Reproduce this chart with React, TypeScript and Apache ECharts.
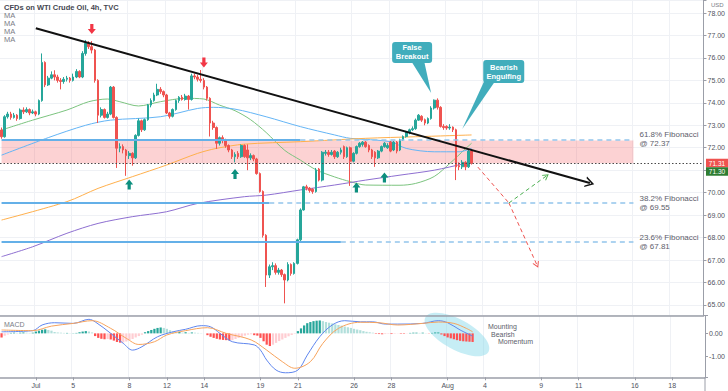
import React, { useEffect, useRef } from 'react';
import * as echarts from 'echarts';

// ---------- data ----------
const tradingDays = ['06-29','06-30','07-01','07-02','07-05','07-06','07-07','07-08','07-09','07-12','07-13','07-14','07-15','07-16','07-19','07-20','07-21','07-22','07-23','07-26','07-27','07-28','07-29','07-30','08-02','08-03','08-04','08-05','08-06','08-09','08-10','08-11','08-12','08-13','08-16','08-17','08-18','08-19'];
const dateLabels: Record<string, string> = {
  '07-01': 'Jul', '07-05': '5', '07-08': '8', '07-12': '12', '07-14': '14', '07-19': '19', '07-21': '21',
  '07-26': '26', '07-28': '28', '08-02': 'Aug', '08-04': '4', '08-09': '9', '08-11': '11', '08-16': '16', '08-18': '18',
};
const barsPerDay = 6;

// [open, close, low, high] per 4h bar
const ohlc: number[][] = [
  [72.79,72.49,72.4,72.9],[72.49,73.38,72.45,73.45],[73.38,73.5,73.3,73.6],[73.5,73.35,73.25,73.6],[73.35,73.45,73.3,73.55],
  [73.45,73.3,73.2,73.5],[73.3,73.68,73.25,73.75],[73.68,73.6,73.5,73.8],[73.6,73.7,73.55,73.8],[73.7,73.55,73.45,73.75],
  [73.55,73.6,73.5,73.7],[73.6,73.5,73.4,73.65],[73.5,74.1,73.45,74.15],[74.1,75.8,74.05,76.2],[75.8,74.8,74.7,75.85],
  [74.8,75.1,74.75,75.2],[75.1,75.25,75.05,75.4],[75.25,75.15,75.0,75.45],[75.15,75.0,74.9,75.25],[75.0,74.95,74.6,75.1],
  [74.95,75.05,74.85,75.15],[75.05,75.1,74.95,75.2],[75.1,75.0,74.9,75.15],[75.0,75.15,74.95,75.3],[75.15,75.4,75.1,75.5],
  [75.4,75.15,75.1,75.45],[75.15,76.2,75.1,76.3],[76.2,76.65,76.1,76.8],[76.65,76.5,76.4,76.75],[76.5,76.35,76.2,76.75],
  [76.35,75.0,74.9,76.4],[75.0,73.45,73.1,75.05],[73.45,73.7,73.35,73.8],[73.7,73.35,73.3,73.75],[73.35,73.5,73.3,73.6],
  [73.5,74.7,73.45,74.75],[74.7,73.35,73.3,74.75],[73.35,71.98,71.1,73.4],[71.98,72.05,71.8,72.2],[72.05,71.9,71.75,72.15],
  [71.9,71.65,70.75,71.95],[71.65,71.75,71.5,71.85],[71.75,71.55,71.2,71.8],[71.55,72.55,71.5,72.6],[72.55,73.2,72.5,73.3],
  [73.2,72.8,72.7,73.25],[72.8,73.25,72.75,73.3],[73.25,73.9,73.2,73.95],[73.9,74.1,73.8,74.2],[74.1,74.35,74.05,74.45],
  [74.35,74.6,74.3,74.85],[74.6,74.5,74.4,74.7],[74.5,74.35,74.25,74.55],[74.35,73.55,73.5,74.4],[73.55,73.4,73.3,73.6],
  [73.4,73.7,73.35,73.75],[73.7,74.1,73.65,74.15],[74.1,74.25,74.0,74.3],[74.25,74.15,74.1,74.35],[74.15,74.3,74.1,74.4],
  [74.3,74.15,73.7,74.35],[74.15,75.2,74.1,75.3],[75.2,75.15,75.05,75.3],[75.15,75.05,74.95,75.25],[75.05,75.0,74.9,75.46],
  [75.0,74.7,74.6,75.1],[74.7,74.2,74.1,74.75],[74.2,73.1,72.5,74.25],[73.1,72.9,72.8,73.2],[72.9,72.2,71.95,72.95],
  [72.2,72.45,72.1,72.5],[72.45,72.35,72.2,72.55],[72.35,72.1,72.0,72.4],[72.1,71.9,71.8,72.15],[71.9,71.6,71.5,71.95],
  [71.6,71.7,71.35,71.8],[71.75,71.6,71.5,71.85],[71.6,72.1,71.55,72.15],[72.1,71.6,71.55,72.15],[71.9,71.55,71.0,72.15],
  [71.55,71.65,71.45,71.75],[71.65,71.5,71.4,71.7],[71.5,70.85,70.8,71.55],[70.85,70.05,70.0,70.9],[70.05,68.1,68.0,70.1],
  [68.1,66.33,65.8,68.15],[66.33,66.7,66.2,66.8],[66.7,66.75,66.55,66.9],[66.75,66.45,66.35,66.85],[66.45,66.55,66.35,66.65],
  [66.55,66.35,66.25,66.6],[66.35,66.11,65.07,66.4],[66.11,66.8,66.05,66.9],[66.8,66.4,66.3,66.85],[66.4,66.85,66.35,66.9],
  [66.85,67.9,66.8,67.95],[67.9,69.23,67.85,69.3],[69.23,70.26,69.2,70.3],[70.26,70.2,70.1,70.35],[70.2,70.1,70.0,70.25],
  [70.15,70.05,69.95,70.2],[70.05,71.0,70.0,71.1],[71.05,70.56,70.5,71.1],[70.56,71.8,70.5,71.85],[71.75,71.8,71.65,71.9],
  [71.8,71.7,71.6,71.9],[71.7,71.8,71.65,71.9],[71.85,71.6,71.5,71.9],[71.6,71.8,71.55,71.85],[71.8,71.9,71.7,72.0],
  [72.05,71.6,71.5,72.1],[71.6,72.0,71.55,72.05],[72.0,71.4,70.3,72.05],[71.4,71.75,71.35,71.8],[71.75,72.05,71.7,72.1],
  [72.05,72.2,72.0,72.25],[72.15,72.25,72.05,72.3],[72.25,72.05,72.0,72.3],[72.1,71.9,71.8,72.15],[71.9,71.6,71.5,71.95],
  [71.8,71.55,71.15,71.85],[71.55,71.85,71.5,71.9],[71.85,72.05,71.8,72.1],[72.05,72.2,72.0,72.25],[72.0,72.1,71.95,72.2],
  [72.25,71.85,71.8,72.3],[71.9,72.25,71.85,72.3],[72.25,71.85,71.75,72.3],[71.9,72.35,71.85,72.4],[72.35,72.5,72.3,72.55],
  [72.5,72.7,72.45,72.75],[72.7,72.8,72.6,72.85],[72.8,72.85,72.75,72.95],[72.85,73.23,72.8,73.3],[73.23,73.45,73.2,73.5],
  [73.4,73.23,73.15,73.45],[73.25,73.1,73.0,73.3],[73.1,73.3,73.05,73.35],[73.3,73.77,73.25,73.85],[73.77,74.12,73.7,74.15],
  [74.12,73.8,73.7,74.2],[73.8,72.95,72.9,73.85],[72.95,72.9,72.8,73.05],[72.95,72.88,72.8,73.0],[72.88,72.92,72.8,73.05],
  [72.92,72.8,72.7,72.95],[72.8,71.15,70.56,72.85],[71.2,71.15,71.0,71.35],[71.15,71.35,71.05,71.45],[71.35,71.15,71.0,71.4],
  [71.15,71.85,71.1,71.9],[71.85,71.31,71.25,71.9],
];

// moving averages read at key bars: [bar index, value]
const maFast = [[0,72.79],[10,73.23],[21,73.68],[28,74.05],[34,74.17],[38,74.05],[44,73.86],[51,74.05],[59,74.2],[65,74.17],[70,73.9],[75,73.65],[80,73.25],[85,72.68],[91,71.88],[96,71.45],[101,71.02],[107,70.7],[112,70.49],[117,70.34],[128,70.33],[133,70.41],[139,70.72],[144,71.3],[149,71.95],[151,72.2]];
const maMid = [[0,71.67],[15,72.45],[27,73.0],[35,73.23],[51,73.38],[63,73.75],[68,73.8],[75,73.72],[85,73.38],[96,72.94],[107,72.57],[112,72.42],[125,72.27],[130,71.97],[139,71.82],[147,71.82],[151,71.97]];
const maSlow = [[0,68.78],[21,69.6],[31,70.19],[42,70.71],[53,71.23],[63,71.75],[69,71.97],[78,72.16],[96,72.27],[117,72.42],[133,72.49],[151,72.57]];
const maLong = [[0,67.15],[10,67.59],[21,68.19],[31,68.63],[42,68.93],[53,69.15],[63,69.52],[78,69.82],[85,69.89],[96,70.12],[107,70.34],[117,70.56],[128,70.78],[139,71.0],[149,71.3],[151,71.35]];

const macdHist = [
  -0.18,-0.10,-0.05,0.02,0.03,0.02,0.03,0.04,0.03,0.02,0.03,0.08,0.12,0.16,0.18,0.15,0.12,0.06,0.04,0.03,
  0.02,0.02,0.01,0.01,0.02,0.05,0.08,0.10,0.08,0.04,-0.12,-0.20,-0.24,-0.26,-0.25,-0.27,-0.32,-0.38,-0.41,-0.40,
  -0.36,-0.30,-0.25,-0.18,-0.12,-0.06,0.05,0.10,0.15,0.20,0.24,0.26,0.24,0.20,0.14,0.08,0.04,0.06,0.03,0.05,
  0.02,0.04,0.03,0.02,0.01,0.00,-0.08,-0.15,-0.20,-0.24,-0.27,-0.29,-0.30,-0.31,-0.30,-0.25,-0.20,-0.15,-0.10,-0.06,
  -0.04,-0.08,-0.10,-0.20,-0.35,-0.50,-0.56,-0.50,-0.42,-0.34,-0.27,-0.20,-0.13,-0.07,-0.02,0.10,0.22,0.35,0.45,0.50,
  0.54,0.56,0.57,0.54,0.50,0.47,0.44,0.40,0.37,0.34,0.30,0.27,0.24,0.20,0.17,0.14,0.10,0.07,0.05,0.03,
  -0.02,-0.03,-0.04,-0.03,-0.02,-0.03,-0.02,-0.01,-0.02,-0.02,-0.01,0.02,0.03,0.03,0.02,0.03,0.01,-0.01,0.02,0.04,
  0.04,-0.05,-0.12,-0.18,-0.22,-0.26,-0.30,-0.33,-0.35,-0.36,-0.37,-0.38,
];
const macdLine = [[0,0.07],[10,0.12],[13,0.37],[17,0.47],[23,0.44],[28,0.62],[30,0.51],[35,0.0],[39,-0.44],[42,-0.74],[45,-0.59],[50,-0.15],[55,0.07],[59,0.18],[64,0.34],[67,0.29],[70,0.0],[74,-0.37],[81,-0.51],[83,-0.74],[85,-1.18],[88,-1.62],[91,-1.74],[95,-1.62],[98,-0.96],[102,-0.15],[106,0.37],[110,0.56],[115,0.51],[119,0.51],[123,0.41],[127,0.41],[135,0.44],[140,0.56],[143,0.47],[147,0.15],[151,-0.12]];
const signalLine = [[0,0.15],[10,0.12],[16,0.32],[23,0.44],[29,0.56],[35,0.22],[40,-0.22],[44,-0.49],[49,-0.37],[53,-0.07],[59,0.12],[66,0.25],[72,0.0],[80,-0.29],[85,-0.74],[90,-1.25],[94,-1.54],[99,-1.25],[103,-0.44],[108,0.22],[115,0.49],[121,0.47],[127,0.37],[135,0.44],[140,0.5],[145,0.44],[149,0.22],[151,0.07]];

const fibLevels = [72.37, 69.55, 67.81];
const fibNames = ['61.8% Fibonacci', '38.2% Fibonacci', '23.6% Fibonacci'];
const fibSolidEnd = [96, 86, 109];
const extendEnd = 203;
const zoneTop = 72.32;
const lastPrice = 71.31;
const askPrice = 71.3;
const trendLine = [[11, 77.32], [189, 70.43]];
const projRedA = [[153, 71.14], [163, 69.54]];
const projRedB = [[163, 69.54], [172, 66.78]];
const projGreen = [[163, 69.54], [175, 70.74]];
const arrowsDown = [[29, 77.29], [65, 75.8]];
const arrowsUp = [[41, 70.36], [75, 70.83], [114, 70.23], [123, 70.67]];
const falseBreakoutTip = [138, 74.44];
const engulfingTip = [148, 72.83];
const momentumCenter = [146, -0.05];
const momentumWords = ['Mounting', 'Bearish', 'Momentum'];

// ---------- helpers ----------
const categories: string[] = [];
tradingDays.forEach((d) => { for (let h = 0; h < barsPerDay; h++) categories.push(d + ' ' + h); });
categories.shift();
categories.pop();
const isLabelCat = (v: string) => v.endsWith(' 0') && !!dateLabels[v.slice(0, 5)];
const labelInterval = (_i: number, v: string) => isLabelCat(v);

const FONT = 'Liberation Sans, Arial, sans-serif';
const UP = '#26a69a';
const DOWN = '#ef5350';
const AXIS = '#9b9ea8';
const GRIDC = '#eff1f5';
const TEXTC = '#5d606b';
const chevron = 'path://M0,10 L5,0 L10,10 L8.4,10 L5,3.2 L1.6,10 Z';
const arrowDownPath = 'path://M3,0 L7,0 L7,5 L10,5 L5,10 L0,5 L3,5 Z';
const arrowUpPath = 'path://M5,0 L10,5 L7,5 L7,10 L3,10 L3,5 L0,5 Z';

const histData = macdHist.map((v, i) => {
  const prev = i > 0 ? macdHist[i - 1] : v;
  let color;
  if (v >= 0) color = v >= prev ? UP : '#b2dfdb';
  else color = v <= prev ? '#ff5252' : '#ffcdd2';
  return { value: v, itemStyle: { color } };
});

const fmtPrice = (v: number) => (Math.abs(v - Math.round(v)) < 1e-6 ? v.toFixed(2) : '');

function buildOption(): any {
  const fibMarks: any[] = [];
  fibLevels.forEach((lvl, i) => {
    fibMarks.push([
      { coord: [0, lvl], lineStyle: { type: 'solid', color: '#64b0e8', width: 2 } },
      { coord: [fibSolidEnd[i], lvl] },
    ]);
    fibMarks.push([
      {
        coord: [fibSolidEnd[i], lvl],
        lineStyle: { type: [5, 4], color: '#93c5ec', width: 1.5 },
        label: {
          show: true, position: 'end', distance: 6, formatter: fibNames[i] + '\n@ ' + lvl.toFixed(2),
          color: TEXTC, fontSize: 8, lineHeight: 9, fontFamily: FONT, align: 'left',
        },
      },
      { coord: [extendEnd, lvl] },
    ]);
  });
  const xBase = {
    type: 'category', data: categories, boundaryGap: true,
    splitLine: { show: true, interval: labelInterval, lineStyle: { color: GRIDC, width: 1 } },
  };
  return {
    animation: false,
    textStyle: { fontFamily: FONT },
    grid: [
      { left: 0, right: 23, top: 0, height: 315.7 },
      { left: 0, right: 23, top: 315.7, height: 61.6 },
    ],
    xAxis: [
      {
        ...xBase, gridIndex: 0,
        axisLine: { show: true, onZero: false, lineStyle: { color: AXIS, width: 1.5 } },
        axisTick: { show: false }, axisLabel: { show: false },
      },
      {
        ...xBase, gridIndex: 1,
        axisLine: { show: true, onZero: false, lineStyle: { color: AXIS, width: 1.5 } },
        axisTick: { show: true, interval: labelInterval, alignWithLabel: true, length: 3, lineStyle: { color: AXIS } },
        axisLabel: {
          interval: labelInterval, formatter: (v: string) => dateLabels[v.slice(0, 5)] || '',
          fontSize: 7, color: '#50535e', margin: 5, fontFamily: FONT,
        },
      },
    ],
    yAxis: [
      {
        type: 'value', gridIndex: 0, position: 'right', min: 64.52, max: 78.58, splitNumber: 14,
        minInterval: 1, maxInterval: 1, scale: true,
        axisLine: { show: true, lineStyle: { color: AXIS } },
        axisTick: { show: true, length: 3, lineStyle: { color: AXIS } },
        axisLabel: { fontSize: 7, color: '#50535e', margin: 4, formatter: fmtPrice, fontFamily: FONT },
        splitLine: { show: true, lineStyle: { color: GRIDC } },
      },
      {
        type: 'value', gridIndex: 1, position: 'right', min: -1.94, max: 0.78, splitNumber: 3,
        minInterval: 1, maxInterval: 1, scale: true,
        axisLine: { show: true, lineStyle: { color: AXIS } },
        axisTick: { show: true, length: 3, lineStyle: { color: AXIS } },
        axisLabel: { fontSize: 7, color: '#50535e', margin: 4, formatter: fmtPrice, fontFamily: FONT },
        splitLine: { show: false },
      },
    ],
    series: [
      {
        name: 'levels', type: 'line', xAxisIndex: 0, yAxisIndex: 0, data: [], z: 1, silent: true,
        markArea: {
          silent: true, itemStyle: { color: 'rgba(242,80,86,0.26)' },
          data: [[{ coord: [0, zoneTop] }, { coord: [extendEnd, lastPrice] }]],
        },
        markLine: {
          silent: true, symbol: ['none', 'none'], label: { show: false },
          data: [
            { yAxis: lastPrice, lineStyle: { type: [1.5, 2], color: '#4a4a4a', width: 1 } },
            ...fibMarks,
          ],
        },
      },
      { name: 'MA1', type: 'line', xAxisIndex: 0, yAxisIndex: 0, data: maFast, showSymbol: false, smooth: 0.3, z: 2, lineStyle: { color: '#7cc47f', width: 1 } },
      { name: 'MA2', type: 'line', xAxisIndex: 0, yAxisIndex: 0, data: maMid, showSymbol: false, smooth: 0.3, z: 2, lineStyle: { color: '#64b5f6', width: 1 } },
      { name: 'MA3', type: 'line', xAxisIndex: 0, yAxisIndex: 0, data: maSlow, showSymbol: false, smooth: 0.3, z: 2, lineStyle: { color: '#ffb04c', width: 1 } },
      { name: 'MA4', type: 'line', xAxisIndex: 0, yAxisIndex: 0, data: maLong, showSymbol: false, smooth: 0.3, z: 2, lineStyle: { color: '#8e6fd1', width: 1 } },
      {
        name: 'price', type: 'candlestick', xAxisIndex: 0, yAxisIndex: 0, data: ohlc, z: 3, barWidth: '70%',
        itemStyle: { color: UP, color0: DOWN, borderColor: UP, borderColor0: DOWN, borderWidth: 1 },
        markPoint: {
          silent: true, label: { show: false },
          data: [
            ...arrowsDown.map((c) => ({ coord: c, symbol: arrowDownPath, symbolSize: [8, 10], itemStyle: { color: '#f23645' } })),
            ...arrowsUp.map((c) => ({ coord: c, symbol: arrowUpPath, symbolSize: [8, 10], itemStyle: { color: '#0c8f7e' } })),
          ],
        },
      },
      {
        name: 'drawings', type: 'line', xAxisIndex: 0, yAxisIndex: 0, data: [], z: 5, silent: true,
        markLine: {
          silent: true, symbol: ['none', 'none'], label: { show: false },
          data: [
            [
              { coord: trendLine[0], lineStyle: { color: '#111', width: 2, type: 'solid' } },
              { coord: trendLine[1], symbol: chevron, symbolSize: [11, 9] },
            ],
            [
              { coord: projRedA[0], lineStyle: { color: '#ef5350', width: 1, type: [4, 3] } },
              { coord: projRedA[1] },
            ],
            [
              { coord: projRedB[0], lineStyle: { color: '#ef5350', width: 1, type: [4, 3] } },
              { coord: projRedB[1], symbol: chevron, symbolSize: [7, 6] },
            ],
            [
              { coord: projGreen[0], lineStyle: { color: '#4caf50', width: 1, type: [4, 3] } },
              { coord: projGreen[1], symbol: chevron, symbolSize: [7, 6] },
            ],
          ],
        },
      },
      {
        name: 'hist', type: 'bar', xAxisIndex: 1, yAxisIndex: 1, data: histData, barWidth: '72%', z: 2,
      },
      { name: 'MACD', type: 'line', xAxisIndex: 1, yAxisIndex: 1, data: macdLine, showSymbol: false, smooth: 0.35, z: 3, lineStyle: { color: '#5f86ee', width: 1 } },
      { name: 'Signal', type: 'line', xAxisIndex: 1, yAxisIndex: 1, data: signalLine, showSymbol: false, smooth: 0.35, z: 3, lineStyle: { color: '#f7a35c', width: 1 } },
    ],
  };
}

function text(x: number, y: number, t: string, extra: any = {}): any {
  return {
    type: 'text', x, y, z: 100, silent: true,
    style: {
      text: t, fill: TEXTC, fontSize: 8, fontFamily: FONT,
      align: 'left', textAlign: 'left', verticalAlign: 'middle', textVerticalAlign: 'middle', ...extra,
    },
  };
}

export default function App() {
  const ref = useRef<HTMLDivElement>(null);
  useEffect(() => {
    const chart = echarts.init(ref.current as HTMLDivElement, null, { renderer: 'svg' });
    chart.setOption(buildOption());

    const px = (g: number, p: number[]) => chart.convertToPixel({ gridIndex: g }, p) as number[];
    const yLast = px(0, [0, lastPrice])[1];
    const fb = px(0, falseBreakoutTip);
    const be = px(0, engulfingTip);
    const mc = px(1, momentumCenter);
    const teal = '#41adbc';
    const calloutText = { fill: '#fff', fontSize: 7.5, fontWeight: 'bold', lineHeight: 9, align: 'center', textAlign: 'center' };

    const graphic: any[] = [
      text(4, 7, 'CFDs on WTI Crude Oil, 4h, TVC', { fill: '#444751', fontWeight: 'bold', fontSize: 7.5 }),
      text(4, 15, 'MA', { fill: '#7a7d86', fontSize: 7.5 }),
      text(4, 23, 'MA', { fill: '#7a7d86', fontSize: 7.5 }),
      text(4, 31, 'MA', { fill: '#7a7d86', fontSize: 7.5 }),
      text(4, 39, 'MA', { fill: '#7a7d86', fontSize: 7.5 }),
      text(4, 324, 'MACD', { fill: '#7a7d86', fontSize: 7 }),
      text(711, 5, 'USD', { fill: '#7a7d86', fontSize: 6 }),
      { type: 'line', z: 50, silent: true, shape: { x1: 705, y1: 377, x2: 705, y2: 391 }, style: { stroke: AXIS, lineWidth: 1 } },
      // price tags
      { type: 'rect', z: 100, silent: true, shape: { x: 706, y: yLast - 4.5, width: 22, height: 8.5 }, style: { fill: '#ef5350' } },
      text(717, yLast, lastPrice.toFixed(2), { fill: '#fff', fontSize: 6.5, align: 'center', textAlign: 'center' }),
      { type: 'rect', z: 100, silent: true, shape: { x: 706, y: yLast + 4, width: 22, height: 8.5 }, style: { fill: '#2e7d32' } },
      text(717, yLast + 8.5, askPrice.toFixed(2), { fill: '#fff', fontSize: 6.5, align: 'center', textAlign: 'center' }),
      // False Breakout callout
      { type: 'polygon', z: 99, silent: true, shape: { points: [[fb[0] - 20, fb[1] - 32], [fb[0] - 7, fb[1] - 32], [fb[0], fb[1]]] }, style: { fill: teal } },
      { type: 'rect', z: 99, silent: true, shape: { x: fb[0] - 39, y: fb[1] - 51, width: 40, height: 21, r: 3 }, style: { fill: teal } },
      text(fb[0] - 19, fb[1] - 40.5, 'False\nBreakout', calloutText),
      // Bearish Engulfing callout
      { type: 'polygon', z: 99, silent: true, shape: { points: [[be[0] + 22, be[1] - 48], [be[0] + 33, be[1] - 48], [be[0], be[1]]] }, style: { fill: teal } },
      { type: 'rect', z: 99, silent: true, shape: { x: be[0] + 21, y: be[1] - 69, width: 41, height: 23, r: 3 }, style: { fill: teal } },
      text(be[0] + 41.5, be[1] - 57.5, 'Bearish\nEngulfing', calloutText),
      // momentum highlight
      { type: 'ellipse', z: 0, silent: true, x: mc[0], y: mc[1], rotation: -0.5, shape: { cx: 0, cy: 0, rx: 36, ry: 15 }, style: { fill: 'rgba(128,215,232,0.45)' } },
      text(mc[0] + 31, mc[1] - 7.5, momentumWords[0], { fontSize: 7 }),
      text(mc[0] + 34, mc[1], momentumWords[1], { fontSize: 7 }),
      text(mc[0] + 41, mc[1] + 7.5, momentumWords[2], { fontSize: 7 }),
    ];
    chart.setOption({ graphic });
    return () => chart.dispose();
  }, []);
  return <div ref={ref} style={{ position: 'fixed', left: 0, top: 0, width: 728, height: 391, background: '#fff' }} />;
}
